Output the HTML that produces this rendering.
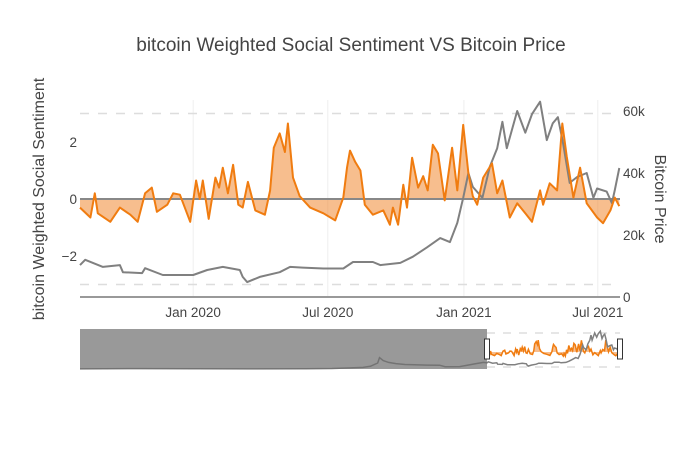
<!DOCTYPE html>
<html><head><meta charset="utf-8"><style>
html,body{margin:0;padding:0;background:#fff;}
svg{display:block;font-family:"Liberation Sans",sans-serif;}
</style></head><body>
<svg id="chart" width="700" height="450" viewBox="0 0 700 450">
<rect x="0" y="0" width="700" height="450" fill="#fff"/>
<text x="351" y="51" text-anchor="middle" font-size="19" fill="#444">bitcoin Weighted Social Sentiment VS Bitcoin Price</text>
<text transform="translate(44,199) rotate(-90)" text-anchor="middle" font-size="16" fill="#444">bitcoin Weighted Social Sentiment</text>
<text transform="translate(655,199) rotate(90)" text-anchor="middle" font-size="16" fill="#444">Bitcoin Price</text>
<g id="grid"></g>
<g id="main"></g>
<g id="slider"></g>
<g id="ticks"></g>
</svg>
<script>
// sentiment series (days since 2019-08-01)
const sentDays = [0,14,20,24,41,54,68,78,88,97,104,118,126,135,149,157,162,166,174,183,188,193,200,207,214,220,227,237,250,257,262,270,277,281,288,297,311,329,345,356,361,365,372,379,385,396,410,419,423,430,437,442,449,457,464,470,477,484,493,503,510,518,525,531,537,545,557,564,571,581,591,602,611,622,626,635,645,652,658,667,676,685,699,707,717,723,729];
const sentVals = [-0.3,-0.65,0.2,-0.5,-0.8,-0.3,-0.55,-0.8,0.2,0.4,-0.45,-0.2,0.2,0.15,-0.8,0.65,0,0.65,-0.7,0.75,0.4,1.1,0.2,1.2,-0.2,-0.3,0.6,-0.4,-0.55,0.3,1.8,2.3,1.65,2.65,0.75,0.1,-0.3,-0.5,-0.75,0.05,1.1,1.7,1.3,1.0,-0.2,-0.55,-0.4,-0.9,-0.3,-0.9,0.5,-0.3,1.45,0.4,0.8,0.3,1.9,1.6,-0.05,1.8,0.3,2.6,0.9,0.1,-0.2,0.75,1.25,0.2,0.65,-0.65,-0.15,-0.5,-0.8,0.3,-0.2,0.55,0.3,2.65,1.5,0.05,1.1,-0.15,-0.65,-0.85,-0.4,0.05,-0.25];
// price series (k USD)
const priceDays = [0,7,31,54,58,84,88,112,135,153,172,193,216,220,226,243,270,284,301,329,356,369,396,406,433,450,469,487,500,510,518,525,531,544,554,564,571,577,591,602,611,622,631,639,646,653,662,672,685,694,699,712,719,723,729];
const priceVals = [10.3,12,9.7,10.3,8,7.7,9.3,7.1,7.1,7.1,8.7,9.7,8.7,6.5,4.8,6.5,8,9.7,9.5,9.2,9.2,11.3,11.3,10.3,11,13,16,19,17.7,23.9,32,40,35.5,32,42,48,56.5,48,60,53,59,63,50.6,56,58,49.7,36.8,38.7,40,32,35,34,30.3,34.5,41.6];
// earlier history shown only in range slider
const histDays = [-2234,-1900,-1600,-1300,-1000,-850,-750,-680,-640,-600,-590,-570,-540,-500,-450,-400,-330,-260,-230,-150,-60,-20];
const histVals = [0.1,0.6,0.3,0.25,0.5,0.9,1.8,2.6,4.5,10,19,14,11,9,7.5,7,6.5,6.4,3.8,4,9,11];
const xTickLabels = ["Jan 2020","Jul 2020","Jan 2021","Jul 2021"];
const xTickDays = [153,335,519,700];
const leftTicks = [2,0,-2];
const rightTicks = [0,20,40,60];

const NS="http://www.w3.org/2000/svg";
const X0=80,X1=620,DAYS=730;
const xs=d=>X0+d*(X1-X0)/DAYS;
const ys=v=>199-v*28.5;
const yp=v=>297-v*3.1;
const SX0=487,SX1=620;
const sxs=d=>SX0+d*(SX1-SX0)/DAYS;
const syp=v=>369-v*0.6;
const sys=v=>352-v*4.5;

function mk(tag,attrs,parent){const e=document.createElementNS(NS,tag);for(const k in attrs)e.setAttribute(k,attrs[k]);parent.appendChild(e);return e;}
const grid=document.getElementById('grid'),main=document.getElementById('main'),slider=document.getElementById('slider'),ticks=document.getElementById('ticks');

xTickDays.forEach((d,i)=>{
  const l=mk('line',{x1:xs(d),x2:xs(d),y1:100,y2:297,stroke:'#eee','stroke-width':1},grid);
  
  
  const t=mk('text',{x:xs(d),y:317,'text-anchor':'middle','font-size':13.5,fill:'#444'},ticks);
  t.textContent=xTickLabels[i];
  
  
});
[ys(3),ys(-3)].forEach(y=>{
  const l=mk('line',{x1:X0,x2:X1,y1:y,y2:y,stroke:'#ddd','stroke-width':1.5,'stroke-dasharray':'9,9'},grid);
  
  
});
leftTicks.forEach(v=>{
  const t=mk('text',{x:77,y:ys(v)+5,'text-anchor':'end','font-size':13.5,fill:'#444'},ticks);
  t.textContent=v<0?'\u2212'+Math.abs(v):String(v);
  
  
});
rightTicks.forEach(v=>{
  const t=mk('text',{x:623,y:yp(v)+5,'text-anchor':'start','font-size':13.5,fill:'#444'},ticks);
  t.textContent=v===0?'0':v+'k';
  
  
});

function linePath(days,vals,fx,fy){return days.map((d,i)=>(i?'L':'M')+fx(d).toFixed(1)+','+fy(vals[i]).toFixed(1)).join('');}

const fillD=linePath(sentDays,sentVals,xs,ys)+'L'+xs(sentDays[sentDays.length-1])+','+ys(0)+'L'+xs(0)+','+ys(0)+'Z';
const fa=mk('path',{d:fillD,fill:'rgba(240,125,30,0.5)',stroke:'none'},main);


const zl=mk('line',{x1:X0,x2:X1,y1:ys(0),y2:ys(0),stroke:'#888','stroke-width':2},main);


const pl=mk('path',{d:linePath(priceDays,priceVals,xs,yp),fill:'none',stroke:'#808080','stroke-width':2,'stroke-linejoin':'round'},main);


const sl=mk('path',{d:linePath(sentDays,sentVals,xs,ys),fill:'none',stroke:'#f07c10','stroke-width':2,'stroke-linejoin':'round'},main);


const ax=mk('line',{x1:X0,x2:X1,y1:297,y2:297,stroke:'#999','stroke-width':2},main);



[333,367].forEach(y=>{
  const l=mk('line',{x1:SX0,x2:SX1,y1:y,y2:y,stroke:'#ddd','stroke-width':1.5,'stroke-dasharray':'8,8'},slider);
  
  
});
const sfD=linePath(sentDays,sentVals,sxs,sys)+'L'+sxs(sentDays[sentDays.length-1])+','+sys(0)+'L'+sxs(0)+','+sys(0)+'Z';
const sf=mk('path',{d:sfD,fill:'rgba(240,125,30,0.5)'},slider);


const ssl=mk('path',{d:linePath(sentDays,sentVals,sxs,sys),fill:'none',stroke:'#f07c10','stroke-width':1.5},slider);


const allD=histDays.concat(priceDays),allV=histVals.concat(priceVals);
const spl=mk('path',{d:linePath(allD,allV,sxs,syp),fill:'none',stroke:'#808080','stroke-width':1.5},slider);


const mask=mk('rect',{x:80,y:329,width:SX0-80,height:40,fill:'rgba(110,110,110,0.7)'},slider);


[SX0,SX1].forEach(x=>{
  const h=mk('rect',{x:x-2.5,y:339,width:5,height:20,fill:'#fff',stroke:'#333','stroke-width':1},slider);
  
  
});
</script>
</body></html>
